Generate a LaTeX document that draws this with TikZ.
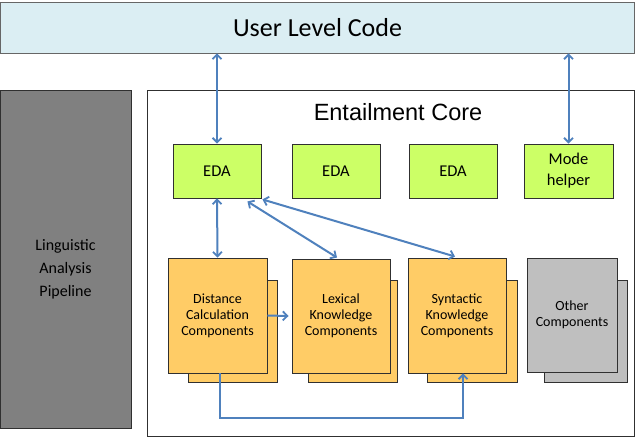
\documentclass[tikz,border=0pt]{standalone}
\usepackage{fontspec}
\setmainfont{Carlito}
\newfontfamily\arialf{Liberation Sans}
\usetikzlibrary{arrows.meta,calc}
\definecolor{topblue}{HTML}{DBEEF3}
\definecolor{edagreen}{HTML}{CCFF66}
\definecolor{comporange}{HTML}{FFCC66}
\definecolor{othergray}{HTML}{BFBFBF}
\definecolor{leftgray}{HTML}{808080}
\definecolor{arrblue}{HTML}{4F81BD}
\definecolor{edgegray}{HTML}{303030}
\tikzset{
  box/.style={draw=edgegray, line width=0.9pt, inner sep=0pt, align=center},
  edabox/.style={box, fill=edagreen, minimum width=88pt, minimum height=54pt, font=\fontsize{16.5}{21}\selectfont},
  compfront/.style={box, fill=comporange, font=\fontsize{14}{16}\selectfont},
  compback/.style={box, fill=comporange},
  tipb/.tip={Straight Barb[length=4.5pt,width=9pt,line width=1.8pt]},
  arr/.style={draw=arrblue, line width=2pt, tipb-tipb},
  arrone/.style={draw=arrblue, line width=2pt, -tipb}
}
\begin{document}
\begin{tikzpicture}[x=1pt,y=-1pt]
\useasboundingbox (0,0) rectangle (636,438);
% top
\node[box, draw=gray!80!black, fill=topblue, minimum width=634pt, minimum height=51pt, font=\fontsize{26}{30}\selectfont] (user) at (317.5,27.5) {User Level Code};
% left
\node[box, fill=leftgray, minimum width=131pt, minimum height=338pt] (ling) at (65.5,259) {};
\node[align=center, inner sep=0pt, font=\fontsize{16}{23}\selectfont] (lingtext) at (65.5,269) {Linguistic\\Analysis\\Pipeline};
% core
\node[box, fill=white, minimum width=487pt, minimum height=346pt] (core) at (390.5,263) {};
\node[font=\arialf\fontsize{23.5}{26}\selectfont, inner sep=0pt] (coretitle) at (398,112) {Entailment Core};
% EDA row
\node[edabox] (eda1) at (217,171) {EDA};
\node[edabox] (eda2) at (336,171) {EDA};
\node[edabox] (eda3) at (453,171) {EDA};
\node[edabox, minimum width=89pt] (mode) at (568.5,171) {Mode\\helper};
% components
\node[compback, minimum width=89pt, minimum height=102pt] (distb) at (232.5,331) {};
\node[compfront, minimum width=99pt, minimum height=115pt] (dist) at (217.5,315.5) {Distance\\Calculation\\Components};
\node[compback, minimum width=89pt, minimum height=102pt] (lexb) at (352.5,331) {};
\node[compfront, minimum width=98pt, minimum height=114pt] (lex) at (341,316) {Lexical\\Knowledge\\Components};
\node[compback, minimum width=90pt, minimum height=102pt] (synb) at (472,331) {};
\node[compfront, minimum width=98pt, minimum height=115pt] (syn) at (457,315.5) {Syntactic\\Knowledge\\Components};
\node[box, fill=othergray, minimum width=83pt, minimum height=102pt] (othb) at (585.5,331) {};
\node[compfront, fill=othergray, minimum width=90pt, minimum height=114pt] (oth) at (572,315) {Other\\Components};
% arrows
\draw[arr] (user.south -| eda1.north) -- (eda1.north);
\draw[arr] (user.south -| mode.north) -- (mode.north);
\draw[arr] (eda1.south) -- (dist.north);
\draw[arr] ([xshift=-14pt,yshift=-3pt]eda1.south east) -- ([xshift=-4pt,yshift=1pt]lex.north);
\draw[arr] ([xshift=1pt,yshift=-1pt]eda1.south east) -- ([xshift=-2pt,yshift=1pt]syn.north);
\draw[arrone] (dist.east) -- ([xshift=-3pt]lex.west);
\draw[arrone] ([xshift=2.5pt]dist.south) -- ++(0,45) -| ([xshift=6pt]syn.south);
\end{tikzpicture}
\end{document}
